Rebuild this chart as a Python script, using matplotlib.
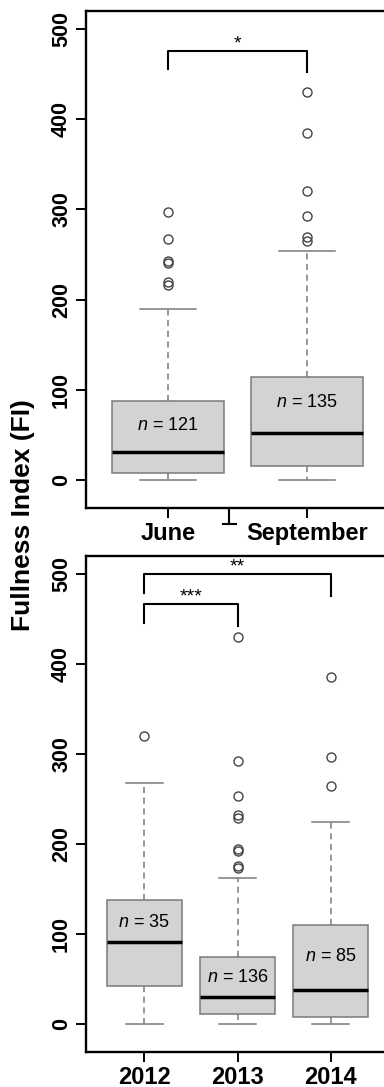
import matplotlib
matplotlib.use("Agg")
import matplotlib.pyplot as plt

plt.rcParams['font.family'] = ['Liberation Sans', 'DejaVu Sans']
plt.rcParams['mathtext.fontset'] = 'custom'
plt.rcParams['mathtext.rm'] = 'Liberation Sans'
plt.rcParams['mathtext.it'] = 'Liberation Sans:italic'

# ---- data: top panel (month) ----
month_labels = ["June", "September"]
month_low = [0, 0]
month_q1 = [8, 15.5]
month_med = [31, 52.5]
month_q3 = [88, 114]
month_high = [190, 254]
month_outliers = [[297, 267, 243, 241, 220, 216],
                  [430, 385, 320, 293, 269, 265]]
month_n = [121, 135]

# ---- data: bottom panel (year) ----
year_labels = ["2012", "2013", "2014"]
year_low = [0, 0, 0]
year_q1 = [42, 11, 7.5]
year_med = [90.5, 30, 37]
year_q3 = [137, 74, 110]
year_high = [268, 162.5, 224.5]
year_outliers = [[320],
                 [430, 292, 253.5, 232, 228.5, 194, 191.5, 175.5, 173.5],
                 [384.7, 296.7, 264.5]]
year_n = [35, 136, 85]

# significance brackets: (left idx, right idx, top, left bottom, right bottom, label)
month_sig = [(1, 2, 476, 456, 452, "*")]
year_sig = [(1, 3, 499.6, 478.5, 475, "**"), (1, 2, 466, 445, 441.6, "***")]

month_nlab_y = [61, 86.5]
year_nlab_y = [113, 51, 75]

W, H = 384, 1087
fig = plt.figure(figsize=(W / 100, H / 100), dpi=100)

def axes_px(left, top, right, bottom):
    return fig.add_axes([left / W, 1 - bottom / H, (right - left) / W, (bottom - top) / H])

ax1 = axes_px(86, 11, 389, 508)
ax2 = axes_px(86, 555.7, 389, 1051.7)

box_gray = "#7a7a7a"

def draw(ax, labels, low, q1, med, q3, high, outl, nvals, nly, sig, xlim):
    stats = []
    for i in range(len(labels)):
        stats.append(dict(whislo=low[i], q1=q1[i], med=med[i], q3=q3[i],
                          whishi=high[i], fliers=outl[i], label=labels[i]))
    pos = list(range(1, len(labels) + 1))
    ax.bxp(stats, positions=pos, widths=0.8, patch_artist=True, showfliers=True,
           boxprops=dict(facecolor="#d3d3d3", edgecolor=box_gray, linewidth=1.1),
           medianprops=dict(color="black", linewidth=2.5, solid_capstyle='butt'),
           whiskerprops=dict(color=box_gray, linewidth=1.1, linestyle=(0, (4, 3))),
           capprops=dict(color=box_gray, linewidth=1.1),
           capwidths=0.4,
           flierprops=dict(marker='o', markerfacecolor='none', markeredgecolor='#444444',
                           markersize=6.5, markeredgewidth=1.0))
    ax.set_xlim(*xlim)
    ax.set_ylim(-31, 520)
    ax.set_yticks([0, 100, 200, 300, 400, 500])
    ax.set_yticklabels(["0", "100", "200", "300", "400", "500"], rotation=90,
                       va='center', fontweight='bold', fontsize=15.5)
    ax.set_xticks(pos)
    ax.set_xticklabels(labels, fontweight='bold', fontsize=17)
    ax.tick_params(axis='y', length=7, width=1.4, pad=3)
    ax.tick_params(axis='x', length=7, width=1.4, pad=3)
    for s in ['left', 'bottom', 'top', 'right']:
        ax.spines[s].set_linewidth(1.7)
    for i, p in enumerate(pos):
        ax.text(p, nly[i], f"$\\it{{n}}$ = {nvals[i]}", ha='center', va='center', fontsize=13)
    for (a, b, top, lb, rb, lab) in sig:
        ax.plot([a, a, b, b], [lb, top, top, rb], color='black', linewidth=1.5)
        ax.text((a + b) / 2, top + 8, lab, ha='center', va='center', fontsize=14)

draw(ax1, month_labels, month_low, month_q1, month_med, month_q3, month_high,
     month_outliers, month_n, month_nlab_y, month_sig, (0.41, 2.59))
draw(ax2, year_labels, year_low, year_q1, year_med, year_q3, year_high,
     year_outliers, year_n, year_nlab_y, year_sig, (0.375, 3.625))

# small stray tick mark below the top panel's axis (as in the source figure)
ax1.plot([0.472, 0.472], [0, -0.0316], transform=ax1.transAxes, color='black',
         linewidth=1.5, clip_on=False)
ax1.plot([0.451, 0.494], [-0.0316, -0.0316], transform=ax1.transAxes, color='black',
         linewidth=1.5, clip_on=False)

fig.text(23 / W, 1 - 515 / H, "Fullness Index (FI)", rotation=90, ha='center', va='center',
         fontweight='bold', fontsize=19)

fig.savefig("out.png", dpi=100)
